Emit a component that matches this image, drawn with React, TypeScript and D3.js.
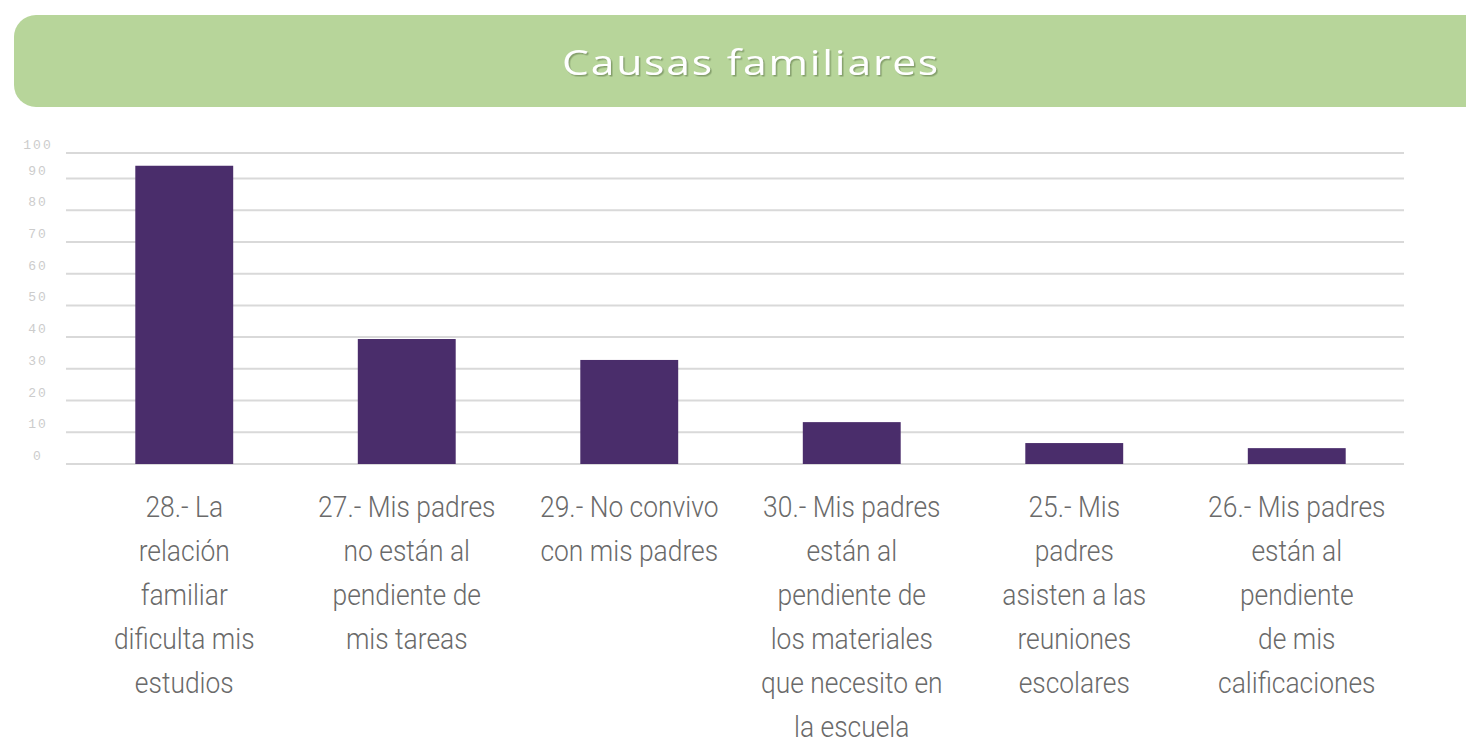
import React from 'react';
import * as d3 from 'd3';

const title = 'Causas familiares';

const categories = ['28', '27', '29', '30', '25', '26'];

const values = [95, 39.4, 32.8, 13.2, 6.6, 5.0];

const labelLines = [
  ['28.- La', 'relación', 'familiar', 'dificulta mis', 'estudios'],
  ['27.- Mis padres', 'no están al', 'pendiente de', 'mis tareas'],
  ['29.- No convivo', 'con mis padres'],
  ['30.- Mis padres', 'están al', 'pendiente de', 'los materiales', 'que necesito en', 'la escuela'],
  ['25.- Mis', 'padres', 'asisten a las', 'reuniones', 'escolares'],
  ['26.- Mis padres', 'están al', 'pendiente', 'de mis', 'calificaciones'],
];

const yTicks = [0, 10, 20, 30, 40, 50, 60, 70, 80, 90, 100];

const width = 1466;
const height = 744;

const App = () => {
  // the top gridline sits a little closer to 90 than the others
  const y = d3.scaleLinear().domain([0, 90, 100]).range([464, 178.5, 153]);

  const x = d3
    .scaleBand()
    .domain(categories)
    .range([73, 1408])
    .paddingInner(0.56)
    .paddingOuter(0.28);

  const barColor = '#4a2d6b';

  return (
    <svg
      width={width}
      height={height}
      style={{ position: 'absolute', left: 0, top: 0, background: '#fff' }}
    >
      <defs>
        <filter id="shadow" x="-10%" y="-30%" width="120%" height="160%">
          <feDropShadow dx="1.5" dy="1.5" stdDeviation="0.6" floodColor="#7f9a66" floodOpacity="0.9" />
        </filter>
      </defs>

      {/* title banner */}
      <rect x={14} y={15} width={1480} height={92} rx={22} fill="#b7d59a" />
      <text
        x={751}
        y={75}
        textAnchor="middle"
        fontFamily="'Open Sans', sans-serif"
        fontWeight={500}
        fontSize={35}
        letterSpacing={1.5}
        fill="#fff"
        textLength={378}
        lengthAdjust="spacingAndGlyphs"
        filter="url(#shadow)"
      >
        {title}
      </text>

      {/* gridlines */}
      {yTicks.map(t => (
        <line
          key={'g' + t}
          x1={66}
          x2={1404}
          y1={y(t)}
          y2={y(t)}
          stroke="#d9d9d9"
          strokeWidth={2}
        />
      ))}

      {/* y tick labels */}
      {yTicks.map(t => (
        <text
          key={'t' + t}
          x={38}
          y={y(t) - 4}
          textAnchor="middle"
          fontFamily="'Liberation Mono', monospace"
          fontSize={13}
          letterSpacing={2}
          fill="#cccccc"
        >
          {t}
        </text>
      ))}

      {/* bars */}
      {categories.map((c, i) => (
        <rect
          key={'b' + c}
          x={x(c)}
          y={y(values[i])}
          width={x.bandwidth()}
          height={y(0) - y(values[i])}
          fill={barColor}
        />
      ))}

      {/* category labels */}
      {categories.map((c, i) => {
        const cx = (x(c) || 0) + x.bandwidth() / 2;
        return (
          <g key={'l' + c} transform={`translate(${cx},0) scale(0.88,1)`}>
            {labelLines[i].map((line, j) => (
              <text
                key={j}
                x={0}
                y={517 + j * 44}
                textAnchor="middle"
                fontFamily="Roboto, sans-serif"
                fontWeight={300}
                fontSize={30}
                fill="#6a6a6a"
              >
                {line}
              </text>
            ))}
          </g>
        );
      })}
    </svg>
  );
};

export default App;
